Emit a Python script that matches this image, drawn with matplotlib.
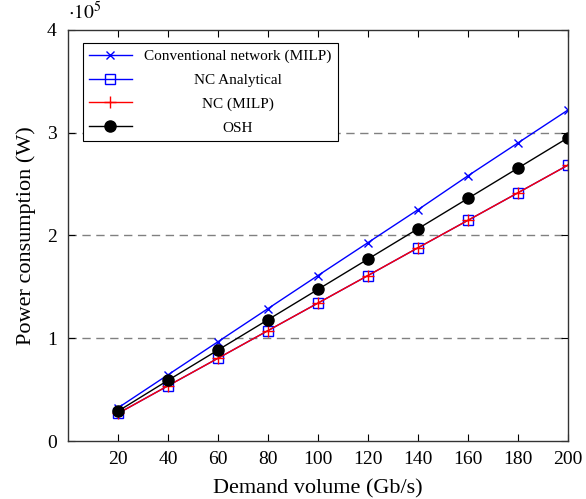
import numpy as np
import matplotlib
matplotlib.use('Agg')
import matplotlib.pyplot as plt
from matplotlib.ticker import FuncFormatter
from matplotlib.transforms import Affine2D

plt.rcParams['font.family'] = ['Liberation Serif', 'DejaVu Serif']
plt.rcParams['mathtext.fontset'] = 'stix'

# === data ===
demand = [20, 40, 60, 80, 100, 120, 140, 160, 180, 200]
conventional = [0.322e5, 0.644e5, 0.966e5, 1.288e5, 1.61e5, 1.93e5, 2.25e5, 2.58e5, 2.90e5, 3.22e5]
nc_analytical = [0.268e5, 0.537e5, 0.805e5, 1.074e5, 1.342e5, 1.61e5, 1.88e5, 2.147e5, 2.415e5, 2.684e5]
nc_milp = [0.268e5, 0.537e5, 0.805e5, 1.074e5, 1.342e5, 1.61e5, 1.88e5, 2.147e5, 2.415e5, 2.684e5]
osh = [0.29e5, 0.59e5, 0.885e5, 1.18e5, 1.475e5, 1.77e5, 2.065e5, 2.36e5, 2.655e5, 2.95e5]

fig = plt.figure(figsize=(5.86, 4.99), dpi=100)
ax = fig.add_axes([0.116, 0.1162, 0.853, 0.8238])

ax.plot(demand, conventional, color='blue', lw=1, marker='x', ms=6, mew=1,
        label='Conventional network (MILP)')
ax.plot(demand, nc_analytical, color='blue', lw=1, marker='s', ms=7, mew=1,
        mfc='none', label='NC Analytical')
ax.plot(demand, nc_milp, color='red', lw=1, marker='+', ms=8, mew=1,
        label='NC (MILP)')
ax.plot(demand, osh, color='black', lw=1, marker='o', ms=8,
        label='OSH')

ax.set_xlim(0, 200)
ax.set_ylim(0, 4e5)
ax.set_xticks(demand)
ax.set_yticks([0, 1e5, 2e5, 3e5, 4e5])
ax.yaxis.set_major_formatter(FuncFormatter(lambda v, p: f"{v/1e5:.0f}"))
ax.tick_params(direction='in', top=True, right=True, labelsize=14, length=5)
ax.tick_params(axis='x', pad=7)
ax.tick_params(axis='y', pad=8)
for s in ax.spines.values():
    s.set_linewidth(1)
    s.set_color('#333333')

for yv in [1e5, 2e5, 3e5]:
    ax.axhline(yv, color='gray', ls=(0, (6, 4)), lw=1, zorder=0)

ax.set_xlabel('Demand volume (Gb/s)', fontsize=16, labelpad=8)
ax.set_ylabel('Power consumption (W)', fontsize=16, labelpad=8)
ax.text(0.0, 1.015, r'$\cdot10^5$', transform=ax.transAxes, fontsize=14,
        ha='left', va='bottom')

leg = ax.legend(loc='upper left', bbox_to_anchor=(0.03, 0.968), fontsize=11,
                fancybox=False, edgecolor='black', framealpha=1,
                handlelength=2.8, borderaxespad=0, labelspacing=0.66)
leg.get_frame().set_linewidth(0.8)

# centre the legend labels like the original
fig.canvas.draw()
texts = leg.get_texts()
bbs = [t.get_window_extent() for t in texts]
x1max = max(b.x1 for b in bbs)
for t, b in zip(texts, bbs):
    dx = (x1max - b.x1) / 2
    t.set_transform(t.get_transform() + Affine2D().translate(dx, 0))

plt.savefig('out.png', dpi=100)
